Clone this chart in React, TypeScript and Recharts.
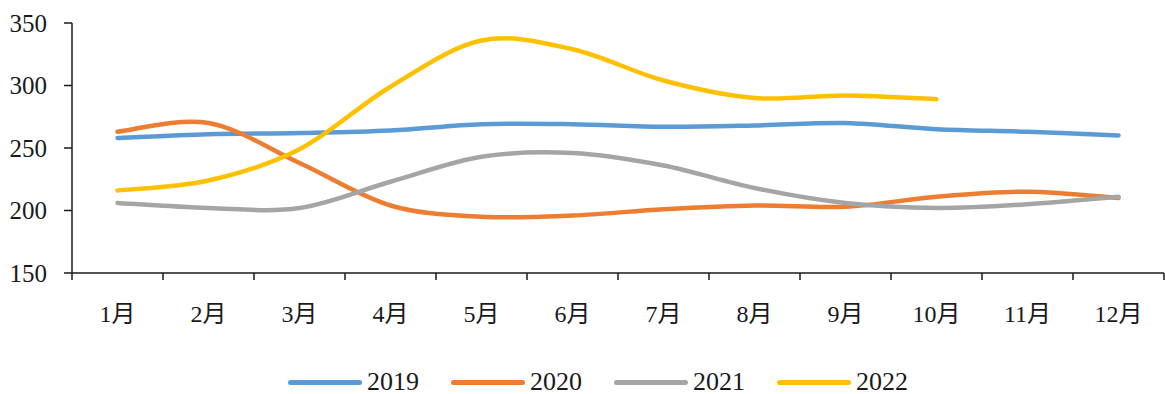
import { LineChart, Line, XAxis, YAxis } from 'recharts';

const months = ['1月', '2月', '3月', '4月', '5月', '6月', '7月', '8月', '9月', '10月', '11月', '12月'];
const v2019 = [258, 261, 262, 264, 269, 269, 267, 268, 270, 265, 263, 260];
const v2020 = [263, 270, 238, 204, 195, 196, 201, 204, 203, 211, 215, 210];
const v2021 = [206, 202, 202, 223, 243, 246, 236, 218, 206, 202, 205, 211];
const v2022 = [216, 224, 249, 299, 336, 329, 304, 290, 292, 289, null, null];
const yTicks = [150, 200, 250, 300, 350];

const SERIES = [
  { key: '2019', color: '#5B9BD5' },
  { key: '2020', color: '#ED7D31' },
  { key: '2021', color: '#A5A5A5' },
  { key: '2022', color: '#FFC000' },
];

const data = months.map((m, i) => ({
  month: m,
  '2019': v2019[i],
  '2020': v2020[i],
  '2021': v2021[i],
  '2022': v2022[i],
}));

const W = 1165;
const H = 394;
const BAND = 91; // width of one month slot on the x axis
const FONT = '"Liberation Serif", "Noto Sans CJK SC", serif';
const INK = '#1a1a1a';

// Catmull-Rom style smoothing, close to office-style smoothed lines
function smoothCurve(context: any) {
  let pts: [number, number][] = [];
  return {
    areaStart() {},
    areaEnd() {},
    lineStart() {
      pts = [];
    },
    lineEnd() {
      if (!pts.length) return;
      context.moveTo(pts[0][0], pts[0][1]);
      for (let i = 0; i < pts.length - 1; i++) {
        const p0 = pts[i - 1] || pts[i];
        const p1 = pts[i];
        const p2 = pts[i + 1];
        const p3 = pts[i + 2] || p2;
        context.bezierCurveTo(
          p1[0] + (p2[0] - p0[0]) / 6,
          p1[1] + (p2[1] - p0[1]) / 6,
          p2[0] - (p3[0] - p1[0]) / 6,
          p2[1] - (p3[1] - p1[1]) / 6,
          p2[0],
          p2[1]
        );
      }
    },
    point(x: number, y: number) {
      pts.push([+x, +y]);
    },
  };
}

// month label plus tick marks on the slot boundaries
const MonthTick = (props: any) => {
  const { x, y, payload, index } = props;
  const last = index === months.length - 1;
  return (
    <g>
      <line x1={x - BAND / 2} x2={x - BAND / 2} y1={y} y2={y + 7} stroke={INK} strokeWidth={1.5} />
      {last && <line x1={x + BAND / 2} x2={x + BAND / 2} y1={y} y2={y + 7} stroke={INK} strokeWidth={1.5} />}
      <text x={x} y={y + 49} textAnchor="middle" fontSize={24} fontFamily={FONT} fill={INK}>
        {payload.value}
      </text>
    </g>
  );
};

const LegendRow = () => (
  <div style={styles.legend}>
    {SERIES.map((s) => (
      <span key={s.key} style={styles.legendItem}>
        <span style={{ ...styles.legendLine, backgroundColor: s.color }} />
        {s.key}
      </span>
    ))}
  </div>
);

export default function App() {
  return (
    <div style={styles.wrap}>
      <LineChart width={W} height={H} data={data} margin={{ top: 23, right: 1, left: 0, bottom: 0 }}>
        <XAxis
          dataKey="month"
          padding={{ left: BAND / 2, right: BAND / 2 }}
          axisLine={{ stroke: INK, strokeWidth: 1.5 }}
          tickLine={false}
          tickSize={0}
          tickMargin={0}
          tick={<MonthTick />}
          interval={0}
          height={121}
        />
        <YAxis
          domain={[150, 350]}
          ticks={yTicks}
          width={72}
          axisLine={{ stroke: INK, strokeWidth: 1.5 }}
          tickLine={{ stroke: INK, strokeWidth: 1.5 }}
          tickSize={8}
          tickMargin={17}
          tick={{ fontSize: 25, fontFamily: FONT, fill: INK }}
        />
        {SERIES.map((s) => (
          <Line
            key={s.key}
            dataKey={s.key}
            type={smoothCurve as any}
            stroke={s.color}
            strokeWidth={4.5}
            strokeLinecap="round"
            dot={false}
            activeDot={false}
            isAnimationActive={false}
          />
        ))}
      </LineChart>
      <LegendRow />
    </div>
  );
}

const styles: Record<string, React.CSSProperties> = {
  wrap: {
    position: 'absolute',
    left: 0,
    top: 0,
    width: W,
    height: H,
    background: '#fff',
  },
  legend: {
    position: 'absolute',
    left: 288,
    top: 366,
    display: 'flex',
    alignItems: 'center',
    gap: 32,
    fontFamily: FONT,
    fontSize: 26,
    color: INK,
    lineHeight: '32px',
  },
  legendItem: {
    display: 'flex',
    alignItems: 'center',
    gap: 5,
  },
  legendLine: {
    width: 74,
    height: 5,
    borderRadius: 3,
    display: 'inline-block',
  },
};
